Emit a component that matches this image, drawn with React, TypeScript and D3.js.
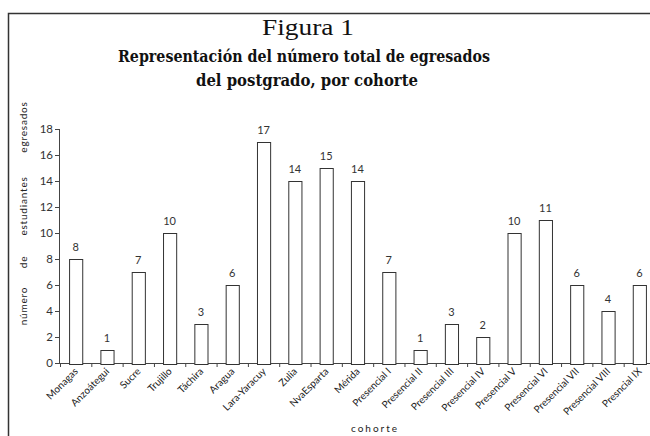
import React from "react";
import * as d3 from "d3";

const categories = [
  "Monagas", "Anzoátegui", "Sucre", "Trujillo", "Táchira", "Aragua",
  "Lara-Yaracuy", "Zulia", "NvaEsparta", "Mérida", "Presencial I",
  "Presencial II", "Presencial III", "Presencial IV", "Presencial V",
  "Presencial VI", "Presencial VII", "Presencial VIII", "Presncial IX",
];
const values = [8, 1, 7, 10, 3, 6, 17, 14, 15, 14, 7, 1, 3, 2, 10, 11, 6, 4, 6];
const yTicks = [0, 2, 4, 6, 8, 10, 12, 14, 16, 18];

const W = 650;
const H = 436;

export default function App() {
  const x = d3.scaleBand<string>().domain(categories).range([60, 655]).paddingInner(0.58).paddingOuter(0.29);
  const y = d3.scaleLinear().domain([0, 18]).range([363, 129]);
  const step = x.step();
  const sans = "Lato, 'DejaVu Sans', sans-serif";
  const serif = "'DejaVu Serif', serif";
  return (
    <svg width={W} height={H} style={{ position: "absolute", left: 0, top: 0, background: "#fff" }}>
      <rect x={0} y={0} width={W} height={H} fill="#fff" />
      <path d={`M8.5,${H} V13.5 H${W}`} fill="none" stroke="#333" strokeWidth={1.5} />
      <text x={308} y={35} textAnchor="middle" fontFamily="'Liberation Serif', serif" fontSize={23} fill="#111" textLength={92} lengthAdjust="spacingAndGlyphs">Figura 1</text>
      <text x={304} y={62} textAnchor="middle" fontFamily={serif} fontWeight="bold" fontSize={17} fill="#111" textLength={372} lengthAdjust="spacingAndGlyphs">Representación del número total de egresados</text>
      <text x={307} y={86} textAnchor="middle" fontFamily={serif} fontWeight="bold" fontSize={17} fill="#111" textLength={222} lengthAdjust="spacingAndGlyphs">del postgrado, por cohorte</text>

      {/* y label */}
      <g fontFamily={sans} fontSize={10} fill="#222" letterSpacing={0.8}>
        {[["número", 306], ["de", 262], ["estudiantes", 206], ["egresados", 127]].map(([w, cy]) => (
          <text key={w as string} transform={`translate(27,${cy}) rotate(-90)`} textAnchor="middle">{w}</text>
        ))}
      </g>

      {/* y axis */}
      <line x1={59.5} x2={59.5} y1={y(18)} y2={y(0) + 1} stroke="#444" strokeWidth={1} />
      {yTicks.map((t) => (
        <g key={t}>
          <line x1={55} x2={59.5} y1={y(t) + 0.5} y2={y(t) + 0.5} stroke="#444" />
          <text x={53} y={y(t) + 4} textAnchor="end" fontFamily={sans} fontSize={11.5} fill="#333">{t}</text>
        </g>
      ))}

      {/* x axis */}
      <line x1={55} x2={W} y1={y(0) + 0.5} y2={y(0) + 0.5} stroke="#444" />
      {categories.map((c) => {
        const x0 = (x(c) as number) - (step - x.bandwidth()) / 2;
        return <line key={"t" + c} x1={x0 + 0.5} x2={x0 + 0.5} y1={y(0)} y2={y(0) + 4} stroke="#444" />;
      })}

      {/* bars */}
      {categories.map((c, i) => {
        const bx = x(c) as number;
        const cx = bx + x.bandwidth() / 2;
        return (
          <g key={c}>
            <rect x={bx + 0.5} y={y(values[i]) + 0.5} width={x.bandwidth()} height={y(0) - y(values[i]) + 1} fill="#fff" stroke="#333" strokeWidth={1} />
            <text x={cx} y={y(values[i]) - 8} textAnchor="middle" fontFamily={sans} fontSize={11} fill="#333">{values[i]}</text>
            <text transform={`translate(${cx + 3},${y(0) + 9}) rotate(-45)`} textAnchor="end" fontFamily={sans} fontSize={10} fill="#222">{c}</text>
          </g>
        );
      })}

      <text x={375} y={432} textAnchor="middle" fontFamily={sans} fontSize={10} letterSpacing={2} fill="#222">cohorte</text>
    </svg>
  );
}
